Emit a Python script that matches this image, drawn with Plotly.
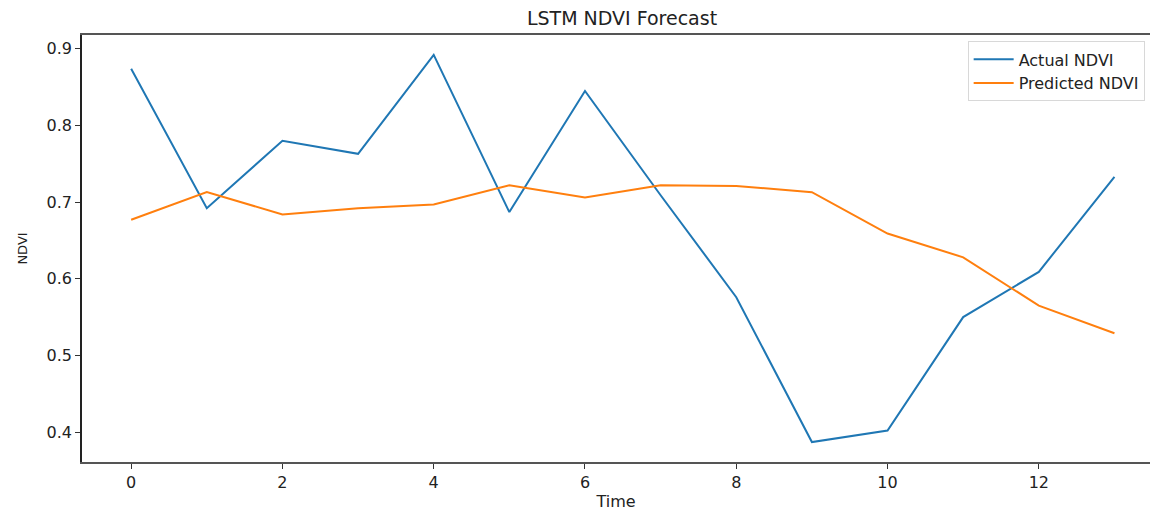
import plotly.graph_objects as go

time = list(range(14))
actual_ndvi = [0.874, 0.692, 0.780, 0.763, 0.892, 0.687, 0.845, 0.709,
               0.576, 0.387, 0.402, 0.550, 0.609, 0.733]
predicted_ndvi = [0.677, 0.713, 0.684, 0.692, 0.697, 0.722, 0.706, 0.722,
                  0.721, 0.713, 0.659, 0.628, 0.565, 0.529]
x_ticks = [0, 2, 4, 6, 8, 10, 12]
y_ticks = [0.4, 0.5, 0.6, 0.7, 0.8, 0.9]

FONT = "DejaVu Sans, Arial, sans-serif"

fig = go.Figure()
fig.add_trace(go.Scatter(x=time, y=actual_ndvi, mode="lines", name="Actual NDVI",
                         line=dict(color="#1f77b4", width=2)))
fig.add_trace(go.Scatter(x=time, y=predicted_ndvi, mode="lines", name="Predicted NDVI",
                         line=dict(color="#ff7f0e", width=2)))

fig.update_layout(
    width=1150, height=511,
    margin=dict(l=82, r=0, t=35, b=49),
    paper_bgcolor="white", plot_bgcolor="white",
    font=dict(family=FONT, size=16, color="#222"),
    title=dict(text="LSTM NDVI Forecast", x=622/1150, xanchor="center",
               y=1 - 18/511, yanchor="middle", font=dict(size=19, color="#222")),
    showlegend=True,
    legend=dict(x=0.995, xanchor="right", y=0.985, yanchor="top",
                bgcolor="white", bordercolor="#d8d8d8", borderwidth=1,
                font=dict(size=16), tracegroupgap=0, itemwidth=40),
    xaxis=dict(range=[-0.65, 13.47], tickvals=x_ticks, showgrid=False, zeroline=False,
               showline=True, linecolor="#555", linewidth=1.5, mirror=True,
               ticks="outside", ticklen=5, tickcolor="#333",
               title=dict(text="Time", font=dict(size=16), standoff=6)),
    yaxis=dict(range=[0.361, 0.918], tickvals=y_ticks, tickformat=".1f",
               showgrid=False, zeroline=False,
               showline=True, linecolor="#222", linewidth=1.5,
               ticks="outside", ticklen=5, tickcolor="#333",
               title=dict(text="NDVI", font=dict(size=13), standoff=16)),
)

fig.write_html("out.html")
